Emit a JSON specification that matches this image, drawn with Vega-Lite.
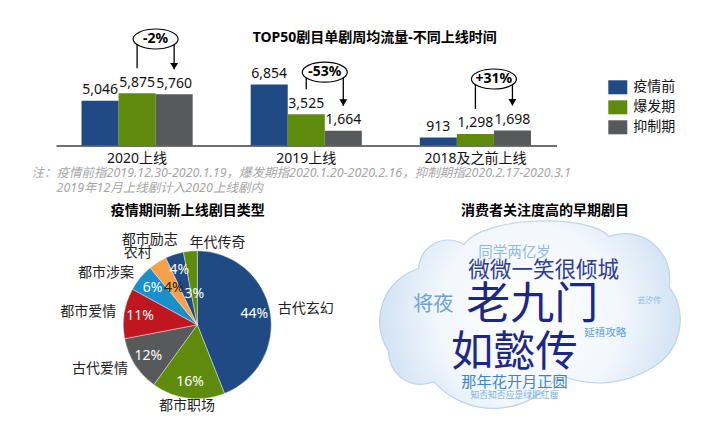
{
  "$schema": "https://vega.github.io/schema/vega-lite/v6.json",
  "background": "white",
  "padding": {"left": 30, "top": 20, "right": 0, "bottom": 0},
  "bounds": "flush",
  "spacing": 71.5,
  "resolve": {"scale": {"color": "independent", "size": "independent", "theta": "independent"}, "legend": {"color": "independent", "size": "independent"}},
  "config": {
    "view": {"stroke": "transparent"},
    "font": "Noto Sans, Noto Sans CJK SC, sans-serif"
  },
  "vconcat": [
    {
      "width": 500.5,
      "height": 124.5,
      "title": {"text": "TOP50剧目单剧周均流量-不同上线时间", "fontSize": 14, "fontWeight": "bold", "color": "#000000", "anchor": "middle", "dx": 68.5, "offset": -24},
      "encoding": {
        "x": {"field": "group", "type": "nominal", "sort": ["2020上线", "2019上线", "2018及之前上线"],
          "scale": {"domain": ["2020上线", "2019上线", "2018及之前上线"], "paddingInner": 0.343, "paddingOuter": 0.151},
          "axis": {"title": ["注：疫情前指2019.12.30-2020.1.19，爆发期指2020.1.20-2020.2.16，抑制期指2020.2.17-2020.3.1", "\u200b\u3000\u30002019年12月上线剧计入2020上线剧内"],
            "titleX": -25, "titleY": 21.4, "titleAlign": "left", "titleBaseline": "top", "titleFontSize": 12.5, "titleFontStyle": "italic", "titleFontWeight": "normal", "titleColor": "#a6a6a6", "titleLineHeight": 15,
            "labelAngle": 0, "labelFontSize": 14, "labelColor": "#111111", "labelPadding": 6, "ticks": false, "tickSize": 0, "grid": false, "domainColor": "#404040", "domainWidth": 1.3}},
        "y": {"field": "value", "type": "quantitative", "scale": {"domain": [0, 14000], "nice": false, "zero": true}, "axis": null}
      },
      "layer": [
        {
          "data": {"name": "bars", "values": [
            {"group": "2020上线", "period": "疫情前", "value": 5046},
            {"group": "2020上线", "period": "爆发期", "value": 5875},
            {"group": "2020上线", "period": "抑制期", "value": 5760},
            {"group": "2019上线", "period": "疫情前", "value": 6854},
            {"group": "2019上线", "period": "爆发期", "value": 3525},
            {"group": "2019上线", "period": "抑制期", "value": 1664},
            {"group": "2018及之前上线", "period": "疫情前", "value": 913},
            {"group": "2018及之前上线", "period": "爆发期", "value": 1298},
            {"group": "2018及之前上线", "period": "抑制期", "value": 1698}
          ]},
          "layer": [
            {
              "mark": {"type": "bar"},
              "encoding": {
                "xOffset": {"field": "period", "type": "nominal", "scale": {"domain": ["疫情前", "爆发期", "抑制期"], "paddingInner": 0, "paddingOuter": 0}},
                "color": {"field": "period", "type": "nominal",
                  "scale": {"domain": ["疫情前", "爆发期", "抑制期"], "range": ["#1f4a84", "#5f8b0c", "#58595b"]},
                  "legend": {"title": null, "orient": "none", "legendX": 552.3, "legendY": 56.8, "padding": 0,
                    "symbolType": "M-1,-0.737L1,-0.737L1,0.737L-1,0.737Z", "symbolSize": 361, "symbolStrokeWidth": 0,
                    "labelFontSize": 14, "labelColor": "#111111", "labelOffset": 6, "rowPadding": 3}}
              }
            },
            {
              "mark": {"type": "text", "baseline": "alphabetic", "dy": -6.5, "fontSize": 14, "color": "#111111"},
              "encoding": {
                "xOffset": {"field": "period", "type": "nominal"},
                "text": {"field": "value", "type": "quantitative", "format": ","}
              }
            }
          ]
        },
        {
          "data": {"name": "annotations", "values": [
            {"group": "2020上线", "label": "-2%", "from": "爆发期", "to": "抑制期", "fromValue": 5875, "toValue": 5760, "level": 11976},
            {"group": "2019上线", "label": "-53%", "from": "爆发期", "to": "抑制期", "fromValue": 3525, "toValue": 1664, "level": 8243},
            {"group": "2018及之前上线", "label": "+31%", "from": "爆发期", "to": "抑制期", "fromValue": 1298, "toValue": 1698, "level": 7478}
          ]},
          "layer": [
            {
              "mark": {"type": "rule", "color": "#000000", "strokeWidth": 1.3, "y2Offset": -25},
              "encoding": {
                "xOffset": {"field": "from", "type": "nominal"},
                "y": {"field": "level", "type": "quantitative"},
                "y2": {"field": "fromValue"}
              }
            },
            {
              "mark": {"type": "rule", "color": "#000000", "strokeWidth": 1.3, "y2Offset": -25},
              "encoding": {
                "xOffset": {"field": "to", "type": "nominal"},
                "y": {"field": "level", "type": "quantitative"},
                "y2": {"field": "toValue"}
              }
            },
            {
              "mark": {"type": "point", "shape": "M-1,-0.8L1,-0.8L0,0.8Z", "size": 64, "filled": true, "color": "#000000", "opacity": 1, "yOffset": -28.2},
              "encoding": {
                "xOffset": {"field": "to", "type": "nominal"},
                "y": {"field": "toValue", "type": "quantitative"}
              }
            },
            {
              "mark": {"type": "point", "shape": "M-1,0A1,0.444 0 1,1 1,0A1,0.444 0 1,1 -1,0Z", "size": 2025, "filled": false, "fill": "#ffffff", "fillOpacity": 1, "stroke": "#000000", "strokeWidth": 1.2, "opacity": 1},
              "encoding": {
                "x": {"field": "group", "type": "nominal", "bandPosition": 0.6667},
                "y": {"field": "level", "type": "quantitative"}
              }
            },
            {
              "mark": {"type": "text", "fontSize": 14, "fontWeight": "bold", "color": "#000000", "baseline": "middle"},
              "encoding": {
                "x": {"field": "group", "type": "nominal", "bandPosition": 0.6667},
                "y": {"field": "level", "type": "quantitative"},
                "text": {"field": "label"}
              }
            }
          ]
        },
        {
          "data": {"values": [{"logo": "group"}]},
          "mark": {"type": "text", "align": "left", "baseline": "middle", "dx": 35.7, "fontSize": 11, "color": "#3a6fb5"},
          "encoding": {
            "x": {"datum": "2018及之前上线"},
            "y": {"datum": 12000},
            "text": {"field": "logo"}
          }
        },
        {
          "data": {"values": [{"logo": "m"}]},
          "mark": {"type": "text", "align": "left", "baseline": "middle", "dx": 64.5, "dy": -4, "fontSize": 8, "fontStyle": "italic", "color": "#6a4fa0"},
          "encoding": {
            "x": {"datum": "2018及之前上线"},
            "y": {"datum": 12000},
            "text": {"field": "logo"}
          }
        }
      ]
    },
    {
      "bounds": "flush",
      "spacing": 0,
      "resolve": {"scale": {"color": "independent", "size": "independent"}, "legend": {"color": "independent", "size": "independent"}},
      "hconcat": [
        {
          "width": 282.6,
          "height": 214.6,
          "title": {"text": "疫情期间新上线剧目类型", "fontSize": 14, "fontWeight": "bold", "color": "#000000", "anchor": "middle", "dx": -9.6, "offset": 0},
          "data": {"values": [
            {"type": "古代玄幻", "pct": 0.44, "idx": 1},
            {"type": "都市职场", "pct": 0.16, "idx": 2},
            {"type": "古代爱情", "pct": 0.12, "idx": 3},
            {"type": "都市爱情", "pct": 0.11, "idx": 4},
            {"type": "都市涉案", "pct": 0.06, "idx": 5},
            {"type": "农村", "pct": 0.04, "idx": 6},
            {"type": "都市励志", "pct": 0.04, "idx": 7},
            {"type": "年代传奇", "pct": 0.03, "idx": 8}
          ]},
          "encoding": {
            "theta": {"field": "pct", "type": "quantitative", "stack": true},
            "order": {"field": "idx", "type": "quantitative"}
          },
          "layer": [
            {
              "mark": {"type": "arc", "outerRadius": 74, "stroke": "#ffffff", "strokeWidth": 0.4},
              "encoding": {
                "color": {"field": "type", "type": "nominal", "legend": null,
                  "scale": {"domain": ["古代玄幻", "都市职场", "古代爱情", "都市爱情", "都市涉案", "农村", "都市励志", "年代传奇"],
                    "range": ["#1f4a84", "#5f8b0c", "#58595b", "#c0161f", "#1b8fc9", "#f6a04c", "#1f4a84", "#5f8b0c"]}}
              }
            },
            {
              "mark": {"type": "text", "radius": 58, "fontSize": 14, "color": "#ffffff"},
              "encoding": {"text": {"condition": {"test": "datum.type !== '农村' && datum.type !== '年代传奇'", "field": "pct", "type": "quantitative", "format": ".0%"}, "value": ""}}
            },
            {
              "mark": {"type": "text", "radius": 44, "fontSize": 14, "color": "#222222"},
              "encoding": {"text": {"condition": {"test": "datum.type === '农村'", "field": "pct", "type": "quantitative", "format": ".0%"}, "value": ""}}
            },
            {
              "mark": {"type": "text", "radius": 31, "fontSize": 14, "color": "#ffffff"},
              "encoding": {"text": {"condition": {"test": "datum.type === '年代传奇'", "field": "pct", "type": "quantitative", "format": ".0%"}, "value": ""}}
            },
            {
              "mark": {"type": "text", "radius": 82, "fontSize": 14, "color": "#222222", "align": "right"},
              "encoding": {"text": {"condition": {"test": "indexof(['古代爱情','都市爱情','都市涉案'], datum.type) >= 0", "field": "type"}, "value": ""}}
            },
            {
              "mark": {"type": "text", "radius": 85, "fontSize": 14, "color": "#222222", "align": "right"},
              "encoding": {"text": {"condition": {"test": "datum.type === '农村'", "field": "type"}, "value": ""}}
            },
            {
              "mark": {"type": "text", "radius": 89, "fontSize": 14, "color": "#222222", "align": "right", "dx": 8},
              "encoding": {"text": {"condition": {"test": "datum.type === '都市励志'", "field": "type"}, "value": ""}}
            },
            {
              "mark": {"type": "text", "radius": 82, "fontSize": 14, "color": "#222222", "align": "left"},
              "encoding": {"text": {"condition": {"test": "indexof(['古代玄幻','年代传奇'], datum.type) >= 0", "field": "type"}, "value": ""}}
            },
            {
              "mark": {"type": "text", "radius": 82, "fontSize": 14, "color": "#222222", "align": "center"},
              "encoding": {"text": {"condition": {"test": "datum.type === '都市职场'", "field": "type"}, "value": ""}}
            }
          ]
        },
        {
          "width": 379.8,
          "height": 198,
          "title": {"text": "消费者关注度高的早期剧目", "fontSize": 14, "fontWeight": "bold", "color": "#000000", "anchor": "middle", "dx": 16, "offset": 0},
          "resolve": {"scale": {"color": "independent"}},
          "layer": [
            {
              "data": {"values": [{"name": "cloud"}]},
              "mark": {"type": "point",
                "shape": "M-0.949,0.237A0.373,0.373 0 0 1 -0.746,-0.325A0.2,0.2 0 0 1 -0.441,-0.488C-0.3,-0.68 0.4,-0.7 0.542,-0.542A0.305,0.305 0 0 1 0.949,-0.203A0.373,0.373 0 0 1 0.847,0.339A0.678,0.678 0 0 1 0.203,0.393A0.542,0.542 0 0 1 -0.644,0.441A0.217,0.217 0 0 1 -0.949,0.237Z",
                "size": 87320, "filled": true, "opacity": 1,
                "fill": {"gradient": "radial", "stops": [{"offset": 0, "color": "#ffffff"}, {"offset": 0.6, "color": "#f2f7fc"}, {"offset": 1, "color": "#d2e3f3"}]},
                "stroke": "#bdd4ea", "strokeWidth": 1.2}
            },
            {
              "data": {"values": [
                {"word": "老九门", "weight": 100, "x": 50.9, "y": 55.3},
                {"word": "如懿传", "weight": 96, "x": 46.2, "y": 31.6},
                {"word": "微微一笑很倾城", "weight": 49, "x": 53.9, "y": 73.1},
                {"word": "将夜", "weight": 46, "x": 24.8, "y": 55.9},
                {"word": "那年花开月正圆", "weight": 34.5, "x": 46.2, "y": 17.1},
                {"word": "同学两亿岁", "weight": 33, "x": 46.2, "y": 82.2},
                {"word": "延禧攻略", "weight": 24, "x": 70.1, "y": 41.5},
                {"word": "知否知否应是绿肥红瘦", "weight": 20, "x": 46.2, "y": 10.6},
                {"word": "芸汐传", "weight": 18, "x": 81.7, "y": 57.8}
              ]},
              "mark": {"type": "text", "baseline": "middle", "align": "center"},
              "encoding": {
                "x": {"field": "x", "type": "quantitative", "scale": {"domain": [0, 100], "nice": false, "zero": false}, "axis": null},
                "y": {"field": "y", "type": "quantitative", "scale": {"domain": [0, 100], "nice": false, "zero": false}, "axis": null},
                "text": {"field": "word"},
                "size": {"field": "weight", "type": "quantitative", "scale": {"domain": [0, 100], "range": [0, 44]}, "legend": null},
                "color": {"field": "word", "type": "nominal", "legend": null,
                  "scale": {"domain": ["老九门", "如懿传", "微微一笑很倾城", "将夜", "那年花开月正圆", "同学两亿岁", "延禧攻略", "知否知否应是绿肥红瘦", "芸汐传"],
                    "range": ["#1c2788", "#1c2788", "#2e3d91", "#6ca3d8", "#3b86c8", "#8dbbe5", "#5d9fd8", "#7bb1e0", "#8cbbe6"]}}
              }
            }
          ]
        }
      ]
    }
  ]
}
